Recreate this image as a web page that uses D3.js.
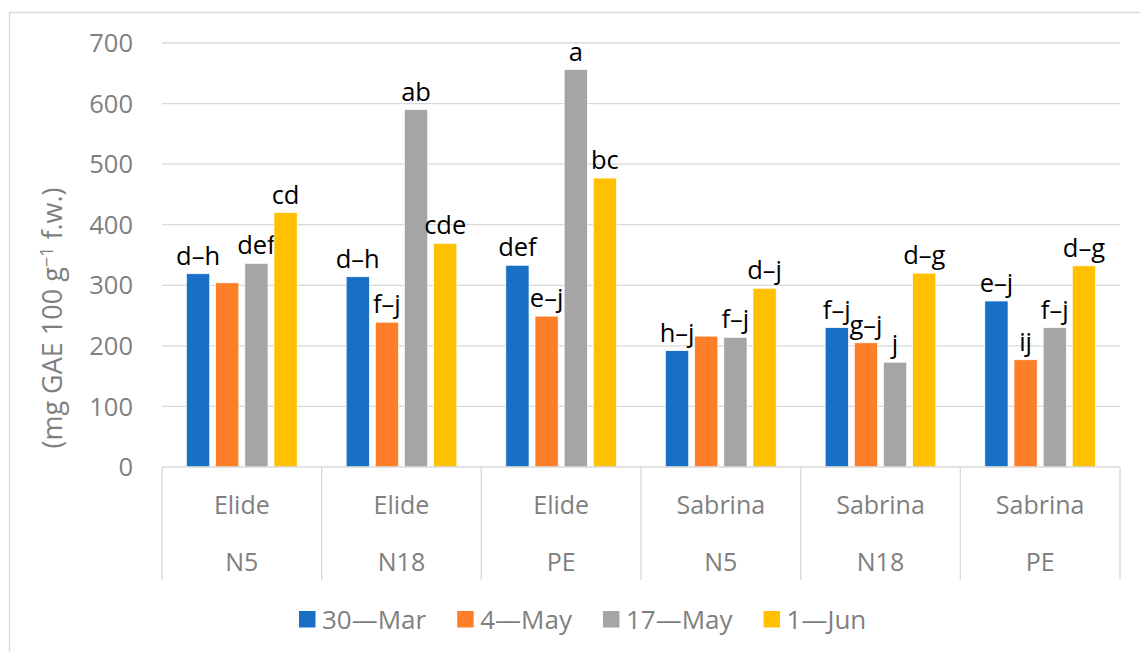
<!DOCTYPE html>
<html lang="en">
  <head>
    <meta charset="UTF-8">
    <script src="https://d3js.org/d3.v7.min.js"></script>
    <style>
      html,body{
        width:100%;
        height:100%;
        margin: 0px;
        background:#fff;
      }
      svg text{font-family:"Open Sans", sans-serif;}
    </style>
  </head>
  <body>
    <svg id="chart" width="1140" height="652"></svg>
  </body>
</html>
<script>
// chart data
var cultivars = ["Elide","Elide","Elide","Sabrina","Sabrina","Sabrina"];
var treatments = ["N5","N18","PE","N5","N18","PE"];
var series = ["30\u2014Mar","4\u2014May","17\u2014May","1\u2014Jun"];
var colors = ["#1870c6","#fe7f27","#a5a5a5","#ffc000"];
// values per series, one per category
var mar30 = [319, 314, 333, 192, 230, 274];
var may4  = [304, 239, 249, 216, 205, 177];
var may17 = [336, 590, 656, 214, 173, 230];
var jun1  = [420, 369, 477, 295, 320, 332];
// significance letters
var lab30 = ["d\u2013h","d\u2013h","def","h\u2013j","f\u2013j","e\u2013j"];
var lab4  = ["","f\u2013j","e\u2013j","","g\u2013j","ij"];
var lab17 = ["def","ab","a","f\u2013j","j","f\u2013j"];
var lab1  = ["cd","cde","bc","d\u2013j","d\u2013g","d\u2013g"];
var yTicks = [0,100,200,300,400,500,600,700];

var svg = d3.select("#chart");
var values = [mar30, may4, may17, jun1];
var labels = [lab30, lab4, lab17, lab1];
var cats = d3.range(cultivars.length);

var plotL = 162, plotR = 1120, plotT = 43, plotB = 467;

var x = d3.scaleBand().domain(cats).range([plotL, plotR]).padding(0);
var bw = x.bandwidth();
var inner = d3.scaleBand().domain(d3.range(series.length))
    .range([(bw-110.6)/2, (bw+110.6)/2]).paddingInner(0.207).paddingOuter(0);
var y = d3.scaleLinear().domain([0,700]).range([plotB, plotT]);

// chart frame (only top & left edge visible)
svg.append("rect").attr("x",9.5).attr("y",12.5).attr("width",1160).attr("height",700)
  .attr("fill","none").attr("stroke","#d9d9d9").attr("stroke-width",1.3);

// gridlines
svg.append("g").selectAll("line").data(yTicks.slice(1)).join("line")
  .attr("x1",plotL).attr("x2",plotR)
  .attr("y1",d=>y(d)).attr("y2",d=>y(d))
  .attr("stroke","#d9d9d9").attr("stroke-width",1.3);

// y tick labels
svg.append("g").selectAll("text").data(yTicks).join("text")
  .attr("x",133).attr("y",d=>y(d)).attr("dy","0.36em")
  .attr("text-anchor","end").attr("font-size",25.5).attr("fill","#7f7f7f")
  .text(d=>d);

// y axis title
var yt = svg.append("text").attr("transform","translate(62,318) rotate(-90)")
  .attr("text-anchor","middle").attr("font-size",27).attr("fill","#7f7f7f");
yt.append("tspan").text("(mg GAE 100 g");
yt.append("tspan").attr("dy",-9).attr("font-size",18).text("\u22121");
yt.append("tspan").attr("dy",9).text(" f.w.)");

// bars
var gs = svg.append("g").selectAll("g").data(values).join("g")
  .attr("fill",(d,i)=>colors[i]);
gs.each(function(vals, si){
  d3.select(this).selectAll("rect").data(vals).join("rect")
    .attr("x",(d,ci)=>x(ci)+inner(si))
    .attr("width",inner.bandwidth())
    .attr("y",d=>y(d))
    .attr("height",d=>y(0)-y(d))
    .attr("stroke","#fff").attr("stroke-width",0.6);
});

// data labels
gs.each(function(vals, si){
  d3.select(this).selectAll("text").data(vals).join("text")
    .attr("x",(d,ci)=>x(ci)+inner(si)+inner.bandwidth()/2)
    .attr("y",d=>y(d)-9)
    .attr("text-anchor","middle").attr("font-size",25.5).attr("fill","#000")
    .text((d,ci)=>labels[si][ci]);
});

// category axis
svg.append("line").attr("x1",plotL).attr("x2",plotR).attr("y1",plotB).attr("y2",plotB)
  .attr("stroke","#d9d9d9").attr("stroke-width",1.3);
svg.append("g").selectAll("line").data(d3.range(cats.length+1)).join("line")
  .attr("x1",i=>i<cats.length? x(i): plotR).attr("x2",i=>i<cats.length? x(i): plotR)
  .attr("y1",plotB).attr("y2",580)
  .attr("stroke","#d9d9d9").attr("stroke-width",1.3);
svg.append("g").selectAll("text").data(cats).join("text")
  .attr("x",c=>x(c)+bw/2).attr("y",505).attr("dy","0.36em")
  .attr("text-anchor","middle").attr("font-size",25).attr("fill","#7f7f7f")
  .text(c=>cultivars[c]);
svg.append("g").selectAll("text").data(cats).join("text")
  .attr("x",c=>x(c)+bw/2).attr("y",562).attr("dy","0.36em")
  .attr("text-anchor","middle").attr("font-size",25).attr("fill","#7f7f7f")
  .text(c=>treatments[c]);

// legend
var lg = svg.append("g");
var lx = 299;
series.forEach(function(s, i){
  lg.append("rect").attr("x",lx).attr("y",611).attr("width",16.5).attr("height",16.5)
    .attr("fill",colors[i]);
  var t = lg.append("text").attr("x",lx+23).attr("y",619.5).attr("dy","0.36em")
    .attr("font-size",26).attr("fill","#7f7f7f").text(s);
  lx += 23 + t.node().getComputedTextLength() + 31;
});
</script>
